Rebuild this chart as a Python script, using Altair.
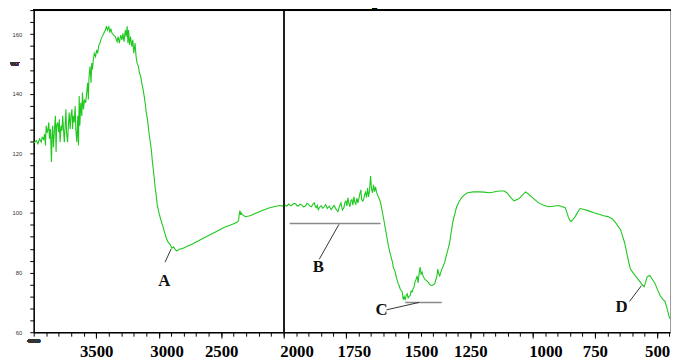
import altair as alt
import pandas as pd

# ---------------- spectrum (wavenumber cm-1, %T) ----------------
wavenumber = [
    4000, 3992, 3979, 3966, 3953, 3940, 3932, 3921, 3913, 3906, 3900, 3892, 3887, 3879, 3874,
    3866, 3858, 3853, 3848, 3842, 3834, 3826, 3821, 3816, 3808, 3800, 3795, 3789, 3781, 3774,
    3768, 3760, 3755, 3747, 3742, 3737, 3729, 3721, 3716, 3708, 3702, 3694, 3689, 3684, 3676,
    3668, 3663, 3655, 3647, 3642, 3636, 3631, 3623, 3615, 3610, 3602, 3594, 3584, 3576, 3568,
    3563, 3557, 3549, 3541, 3536, 3531, 3523, 3515, 3505, 3497, 3489, 3478, 3470, 3463, 3452,
    3439, 3426, 3418, 3410, 3399, 3391, 3383, 3373, 3360, 3347, 3333, 3325, 3315, 3304, 3294,
    3286, 3278, 3267, 3260, 3252, 3246, 3241, 3233, 3225, 3215, 3207, 3199, 3189, 3181, 3173,
    3162, 3154, 3144, 3136, 3125, 3115, 3107, 3099, 3090, 3075, 3067, 3058, 3051, 3040, 3028,
    3020, 3012, 3000, 2988, 2976, 2964, 2952, 2941, 2925, 2909, 2895, 2880, 2870, 2858, 2846,
    2834, 2822, 2800, 2767, 2730, 2688, 2640, 2585, 2530, 2474, 2430, 2395, 2370, 2360, 2356,
    2350, 2346, 2340, 2332, 2320, 2308, 2290, 2269, 2230, 2190, 2150, 2111, 2070, 2032, 2010,
    2000,
    1996, 1988, 1980, 1972, 1968, 1960, 1952, 1946, 1940, 1934, 1929, 1921, 1913, 1907, 1901,
    1895, 1889, 1883, 1877, 1873, 1869, 1865, 1861, 1855, 1849, 1843, 1837, 1831, 1825, 1817,
    1809, 1803, 1798, 1790, 1782, 1776, 1770, 1764, 1758, 1754, 1750, 1746, 1742, 1738, 1734,
    1730, 1726, 1722, 1718, 1714, 1710, 1706, 1702, 1698, 1694, 1690, 1687, 1683, 1679, 1675,
    1671, 1667, 1663, 1659, 1655, 1651, 1647, 1643, 1639, 1635, 1631, 1627, 1623, 1619, 1615,
    1611, 1607, 1603, 1597, 1591, 1585, 1579, 1575, 1571, 1567, 1563, 1559, 1555, 1552, 1548,
    1544, 1540, 1536, 1532, 1528, 1524, 1520, 1516, 1512, 1508, 1504, 1500, 1496, 1492, 1488,
    1484, 1480, 1476, 1472, 1468, 1464, 1460, 1456, 1452, 1448, 1444, 1440, 1436, 1433, 1429,
    1425, 1419, 1413, 1409, 1405, 1399, 1393, 1389, 1385, 1381, 1377, 1373, 1369, 1365, 1359,
    1353, 1347, 1341, 1337, 1333, 1327, 1321, 1317, 1313, 1309, 1305, 1295, 1286, 1274, 1262,
    1238, 1214, 1194, 1174, 1160, 1143, 1128, 1115, 1103, 1090, 1075, 1060, 1047, 1038, 1028,
    1016, 1004, 990, 976, 956, 936, 916, 897, 883, 869, 863, 857, 851, 845, 837,
    829, 819, 809, 793, 778, 754, 730, 714, 698, 679, 667, 657, 647, 639, 631,
    625, 619, 613, 607, 597, 587, 577, 568, 560, 552, 546, 540, 534, 528, 518,
    508, 498, 488, 478, 468, 460, 452, 448,
]
transmittance = [
    123.5, 123.8, 124.3, 123.2, 124.9, 123.8, 125.4, 124.7, 126.5, 122.7, 129.3, 127.1, 127.6, 130.4, 124.9,
    128.2, 117.1, 126.0, 129.3, 122.1, 128.2, 132.6, 120.5, 129.3, 130.4, 127.1, 131.5, 123.8, 129.3, 127.6,
    132.6, 127.1, 123.8, 130.4, 134.8, 127.1, 123.8, 130.4, 133.7, 128.2, 132.6, 134.8, 128.2, 132.6, 130.4,
    135.9, 128.2, 123.8, 132.6, 122.7, 139.3, 129.3, 137.0, 132.6, 140.4, 134.8, 138.1, 137.0, 140.4, 143.7,
    138.1, 145.9, 149.2, 143.7, 150.3, 148.1, 151.4, 153.6, 152.5, 154.7, 153.6, 156.4, 157.0, 158.1, 159.2,
    160.3, 161.4, 162.7, 161.4, 162.5, 160.5, 161.9, 160.3, 159.7, 159.2, 157.5, 159.2, 157.0, 159.7, 158.1,
    160.3, 157.5, 161.4, 159.2, 162.7, 157.0, 161.4, 156.4, 159.2, 155.8, 158.1, 153.6, 157.0, 152.5, 150.3,
    149.2, 147.0, 145.9, 143.7, 141.5, 139.0, 136.5, 133.6, 131.5, 126.0, 123.7, 121.0, 117.5, 113.5, 108.4,
    106.0, 102.8, 100.5, 98.5, 96.8, 95.2, 93.4, 91.8, 90.2, 89.5, 88.2, 88.6, 87.9, 87.3, 87.5,
    87.9, 87.9, 88.3, 88.9, 89.6, 90.5, 91.6, 92.8, 94.0, 95.2, 95.9, 96.5, 97.0, 97.6, 99.5,
    100.8, 99.4, 100.1, 99.5, 99.2, 98.8, 98.9, 99.1, 99.8, 100.5, 101.2, 101.8, 102.2, 102.5, 102.4,
    102.3,
    102.8, 102.3, 103.0, 102.5, 102.6, 103.2, 103.1, 102.4, 102.4, 103.0, 102.8, 102.1, 102.3, 103.2, 103.0,
    102.4, 102.1, 102.9, 103.4, 102.2, 101.8, 102.6, 101.1, 102.0, 102.4, 101.6, 102.1, 102.8, 101.5, 102.3,
    101.1, 101.9, 102.6, 101.4, 100.5, 102.2, 103.4, 101.0, 101.8, 103.6, 104.0, 102.4, 105.1, 103.2, 102.1,
    104.2, 104.5, 102.6, 105.4, 103.6, 103.0, 105.0, 103.4, 104.8, 106.5, 107.8, 104.6, 104.0, 104.4, 106.2,
    107.0, 105.2, 108.4, 105.4, 107.6, 112.4, 108.0, 106.8, 109.5, 107.2, 108.8, 107.0, 106.0, 105.4, 104.6,
    103.5, 101.8, 100.1, 97.4, 94.5, 91.7, 88.9, 87.4, 86.0, 84.8, 83.5, 81.5, 80.9, 80.2, 78.6,
    77.5, 76.3, 75.6, 74.5, 74.0, 73.6, 71.0, 71.9, 70.8, 72.4, 72.9, 71.5, 72.0, 72.3, 73.8,
    73.5, 74.6, 75.3, 77.0, 77.8, 78.9, 76.5, 79.6, 81.9, 79.5, 80.2, 78.9, 78.2, 77.8, 77.5,
    77.2, 76.7, 76.0, 75.8, 75.6, 75.9, 76.3, 77.6, 78.5, 81.2, 79.6, 78.9, 80.1, 81.0, 82.2,
    83.5, 85.6, 87.5, 88.8, 90.2, 93.6, 96.8, 98.3, 99.5, 100.9, 102.1, 103.9, 105.1, 106.1, 106.8,
    107.1, 107.1, 107.0, 106.8, 107.0, 107.3, 107.4, 107.4, 106.8, 105.4, 104.1, 104.6, 105.4, 106.3, 107.1,
    106.3, 105.4, 104.4, 103.4, 102.6, 102.1, 102.3, 102.5, 102.2, 101.8, 100.4, 98.8, 97.6, 97.1, 97.9,
    98.8, 100.3, 101.5, 101.2, 100.8, 100.1, 99.5, 99.1, 98.8, 98.0, 96.8, 95.6, 94.5, 92.3, 90.2,
    88.0, 85.5, 83.2, 81.2, 80.0, 78.9, 77.8, 76.9, 76.0, 75.3, 76.8, 78.6, 78.9, 78.9, 77.6,
    76.3, 74.2, 72.3, 71.2, 70.3, 68.0, 65.3, 64.5,
]

# ---------------- axis ticks and labels ----------------
x_ticks = [4000, 3900, 3800, 3700, 3600, 3500, 3400, 3300, 3200, 3100, 3000, 2900, 2800, 2700,
           2600, 2500, 2400, 2300, 2200, 2100, 2000, 1950, 1900, 1850, 1800, 1750, 1700, 1650,
           1600, 1550, 1500, 1450, 1400, 1350, 1300, 1250, 1200, 1150, 1100, 1050, 1000, 950,
           900, 850, 800, 750, 700, 650, 600, 550, 500, 450]
# major labelled ticks, grouped by how far the printed label sits right of its tick (px)
x_labels_shift0 = [3500, 2500, 1250, 750, 500]
x_labels_shift8 = [3000, 1750]
x_labels_shift13 = [2000, 1500, 1000]
y_ticks = [60, 64, 68, 72, 76, 80, 84, 88, 92, 96, 100, 104, 108, 112, 116, 120, 124, 128, 132,
           136, 140, 144, 148, 152, 156, 160, 164, 168]

# ---------------- annotations ----------------
letters = ["A", "B", "C", "D"]
letter_wn = [2955, 1861, 1607, 643]
letter_t = [77.3, 81.9, 67.3, 68.6]

leader_x1 = [2949, 1857, 1587, 611]
leader_y1 = [83.5, 84.5, 67.5, 70.3]
leader_x2 = [2901, 1778, 1456, 563]
leader_y2 = [87.9, 96.2, 70.0, 75.6]

bar_x1 = [1976, 1512]
bar_x2 = [1611, 1365]
bar_t = [96.5, 70.0]

T_TOP = 168.1
W, H = 644, 326

x_scale = alt.Scale(domain=[4000, 2000, 448], range=[0, 253, W], nice=False, zero=False)
y_scale = alt.Scale(domain=[60, T_TOP], nice=False, zero=False)

spec = pd.DataFrame({"wn": wavenumber, "t": transmittance})
lab = pd.DataFrame({"wn": letter_wn, "t": letter_t, "txt": letters})
lead = pd.DataFrame({"x1": leader_x1, "y1": leader_y1, "x2": leader_x2, "y2": leader_y2})
bars = pd.DataFrame({"x1": bar_x1, "x2": bar_x2, "t": bar_t})

minor_axis = alt.Axis(
    values=x_ticks, title=None, grid=False, labels=False, orient="bottom",
    tickSize=4, tickColor="#000", tickWidth=1, domainColor="#000", domainWidth=1.5,
)


def major_axis(vals, shift):
    return alt.Axis(
        values=vals, format="d", title=None, grid=False, domain=False, orient="bottom",
        labelFont="Liberation Serif", labelFontWeight="bold", labelFontSize=17, labelColor="#000",
        labelOverlap=False, labelFlush=False, labelBound=False, labelPadding=6,
        labelOffset=shift, tickSize=6, tickColor="#000", tickWidth=1,
    )


y_axis = alt.Axis(
    values=y_ticks, title=None, grid=False, orient="left",
    labelExpr="datum.value % 20 == 0 ? datum.label : ''",
    labelFont="Liberation Sans", labelFontSize=6, labelColor="#333",
    labelPadding=8, tickSize=4, tickColor="#000", tickWidth=1,
    domainColor="#000", domainWidth=1.5, labelOverlap=False,
)

line = alt.Chart(spec).transform_window(idx="row_number()").mark_line(
    color="#1ec81e", strokeWidth=1.1
).encode(
    x=alt.X("wn:Q", scale=x_scale, axis=minor_axis),
    y=alt.Y("t:Q", scale=y_scale, axis=y_axis),
    order=alt.Order("idx:Q"),
)


def axis_holder(vals, shift):
    return alt.Chart(spec).mark_point(opacity=0).encode(
        x=alt.X("wn:Q", scale=x_scale, axis=major_axis(vals, shift)),
        y=alt.Y("t:Q", scale=y_scale, axis=None),
    )


split = alt.Chart(spec).mark_rule(color="#222", strokeWidth=1).encode(
    x=alt.X(datum=2000, scale=x_scale, axis=None)
)
top = alt.Chart(spec).mark_rule(color="#000", strokeWidth=2).encode(
    y=alt.Y(datum=T_TOP, scale=y_scale, axis=None)
)

bar_rules = alt.Chart(bars).mark_rule(color="#8a8a8a", strokeWidth=1.5).encode(
    x=alt.X("x1:Q", scale=x_scale, axis=None), x2="x2:Q",
    y=alt.Y("t:Q", scale=y_scale, axis=None),
)
lead_rules = alt.Chart(lead).mark_rule(color="#333", strokeWidth=1).encode(
    x=alt.X("x1:Q", scale=x_scale, axis=None), x2="x2:Q",
    y=alt.Y("y1:Q", scale=y_scale, axis=None), y2="y2:Q",
)
letters_txt = alt.Chart(lab).mark_text(
    font="Liberation Serif", fontWeight="bold", fontSize=17, color="#111",
    align="center", baseline="middle",
).encode(
    x=alt.X("wn:Q", scale=x_scale, axis=None),
    y=alt.Y("t:Q", scale=y_scale, axis=None),
    text="txt:N",
)

pct = alt.Chart(spec).mark_text(
    text="%T", font="Liberation Sans", fontSize=6, color="#333", align="center", baseline="middle", dx=-19,
).encode(
    x=alt.X(datum=4000, scale=x_scale, axis=None),
    y=alt.Y(datum=150, scale=y_scale, axis=None),
)
x0 = alt.Chart(spec).mark_text(
    text="4000", font="Liberation Sans", fontSize=6, color="#333", align="center", baseline="middle", dy=9,
).encode(
    x=alt.X(datum=4000, scale=x_scale, axis=None),
    y=alt.Y(datum=60, scale=y_scale, axis=None),
)
title = alt.Chart(spec).mark_text(
    text="FTIR Analysis", font="Liberation Sans", fontWeight="bold", fontSize=20, color="#000",
    align="center", baseline="alphabetic",
).encode(
    x=alt.X(datum=1754, scale=x_scale, axis=None),
    y=alt.Y(datum=169.8, scale=y_scale, axis=None),
)

chart = alt.layer(
    line,
    axis_holder(x_labels_shift0, 0),
    axis_holder(x_labels_shift8, 8),
    axis_holder(x_labels_shift13, 13),
    split, top, bar_rules, lead_rules, letters_txt, pct, x0, title,
).resolve_axis(x="independent", y="independent").properties(
    width=W, height=H,
    autosize=alt.AutoSizeParams(type="none"),
    padding={"left": 26, "top": 0, "right": 2, "bottom": 26},
    background="white",
).configure_view(stroke="#999", strokeWidth=1)

chart.save("out.html", embed_options={"renderer": "svg", "actions": False})
